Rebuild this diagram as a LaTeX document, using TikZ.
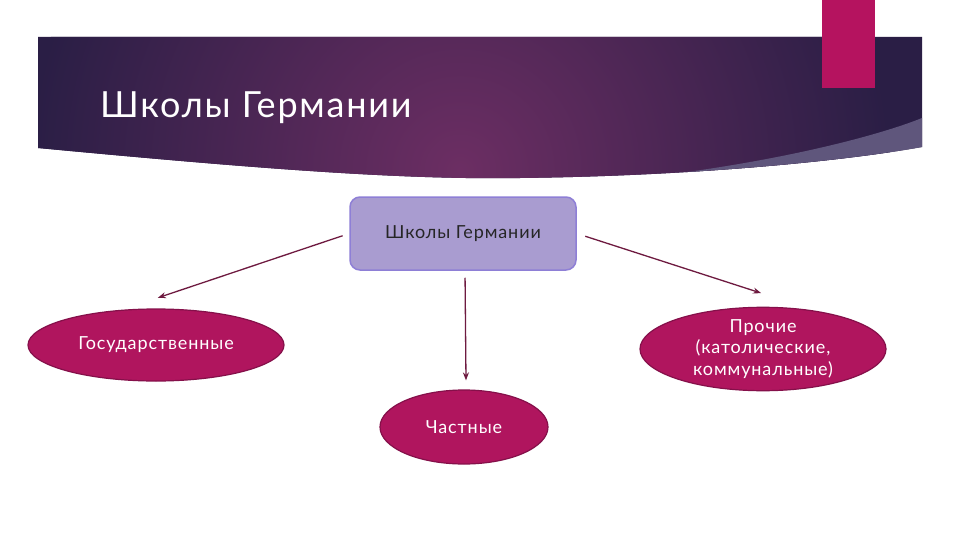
\documentclass[tikz,border=0pt]{standalone}
\usepackage{fontspec}
\setmainfont{Lato}[LetterSpace=5]
\usetikzlibrary{shapes.geometric,arrows.meta}
\definecolor{bandDark}{HTML}{2A1E45}
\definecolor{bandMid}{HTML}{6C2E63}
\definecolor{bandLight}{HTML}{5F567C}
\definecolor{barPink}{HTML}{B5135F}
\definecolor{boxFill}{HTML}{A99CD0}
\definecolor{boxLine}{HTML}{8E7FD6}
\definecolor{ellFill}{HTML}{B0155E}
\definecolor{ellLine}{HTML}{85104A}
\definecolor{arrCol}{HTML}{6E1A40}
\tikzset{
  topbox/.style={draw=boxLine, line width=1.5pt, fill=boxFill, rounded corners=10pt,
    minimum width=226pt, minimum height=73pt, inner sep=0pt, font=\fontsize{18}{21}\selectfont, text=black!85},
  oval/.style={ellipse, draw=ellLine, line width=1.2pt, fill=ellFill, inner sep=0pt,
    text=white, font=\fontsize{18}{21.5}\selectfont, align=center},
  arr/.style={draw=arrCol, line width=1.3pt, -{Stealth[length=8pt,width=6pt]}}
}
\begin{document}
\begin{tikzpicture}[x=1pt,y=-1pt]
\useasboundingbox (0,0) rectangle (960,540);
\fill[white] (0,0) rectangle (960,540);
% banner
\begin{scope}
\clip (38,37) -- (922,37) -- (922,147) .. controls (850,160) and (700,176) .. (520,178)
      .. controls (400,180) and (250,168) .. (38,148) -- cycle;
\fill[bandDark] (0,0) rectangle (960,200);
\shade[inner color=bandMid, outer color=bandDark] (460,170) circle (430);
\fill[bandLight] (922,118) .. controls (880,135) and (780,162) .. (640,178) -- (960,200) -- (960,100) -- cycle;
\end{scope}
\fill[barPink] (822,0) rectangle (875,88);
\node[anchor=base west, text=white, font=\fontsize{36}{41}\selectfont, inner sep=0pt] (title) at (100,118) {Школы Германии};
% diagram
\node[topbox] (top) at (463,233.5) {Школы Германии};
\node[oval, minimum width=256pt, minimum height=72pt] (gos) at (156,345) {Государственные};
\node[oval, minimum width=246pt, minimum height=76pt] (pro) at (763,349) {Прочие\\(католические,\\коммунальные)};
\node[oval, minimum width=168pt, minimum height=74pt] (cha) at (464,427) {Частные};
\draw[arr, shorten <=7pt, shorten >=2pt] (top.west) -- ([yshift=10pt]gos.north);
\draw[arr, shorten <=9pt, shorten >=2pt] (top.east) -- ([yshift=13pt]pro.north);
\draw[arr, shorten <=7pt, shorten >=1pt] ([xshift=2pt]top.south) -- ([xshift=2pt,yshift=8pt]cha.north);
\end{tikzpicture}
\end{document}
